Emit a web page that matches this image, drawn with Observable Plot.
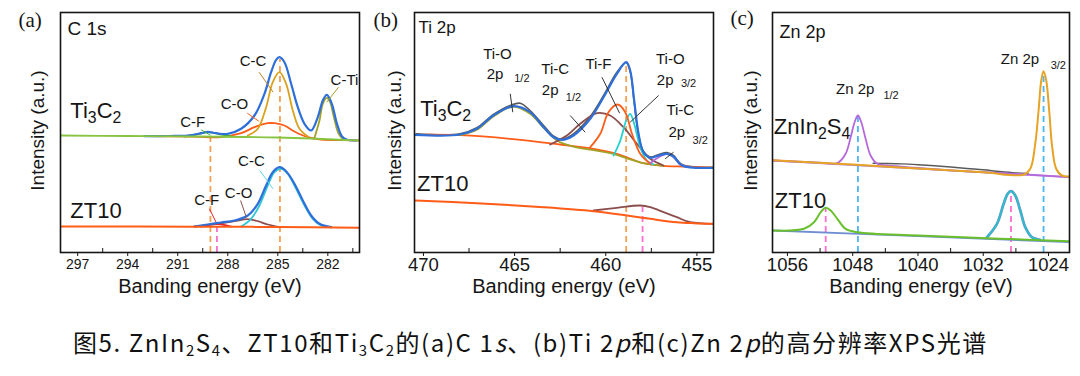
<!DOCTYPE html>
<html>
<head>
<meta charset="utf-8">
<script src="https://cdn.jsdelivr.net/npm/d3@7"></script>
<script src="https://cdn.jsdelivr.net/npm/@observablehq/plot@0.6"></script>
<style>
  body { margin: 0; background: #fff; }
  #wrap { position: relative; width: 1080px; height: 376px; background: #fff; overflow: hidden; }
  .panel { position: absolute; top: 0; }
  .panel svg { font-family: "Liberation Sans", Arial, sans-serif; }
  #caption { position: absolute; left: 73px; top: 329px; font-family: "Noto Sans CJK SC", "Noto Sans", sans-serif;
             font-size: 24px; letter-spacing: 1.6px; line-height: 26px; white-space: nowrap; color: #111; }
  #caption sub { font-size: 0.62em; vertical-align: -0.28em; line-height: 0; }
</style>
</head>
<body>
<div id="wrap">
  <div id="pa" class="panel" style="left:0px"></div>
  <div id="pb" class="panel" style="left:360px"></div>
  <div id="pc" class="panel" style="left:716px"></div>
  <div id="caption">图5. ZnIn<sub>2</sub>S<sub>4</sub>、ZT10和Ti<sub>3</sub>C<sub>2</sub>的(a)C 1<i>s</i>、(b)Ti 2<i>p</i>和(c)Zn 2<i>p</i>的高分辨率XPS光谱</div>
</div>
<script>
// ---------------- text ----------------
const panelLetters = ["(a)", "(b)", "(c)"];
const panelTitles = ["C 1s", "Ti 2p", "Zn 2p"];
const xTitle = "Banding energy (eV)";
const yTitle = "Intensity (a.u.)";

// ---------------- panel (a) C 1s ----------------
const aTicks = [297, 294, 291, 288, 285, 282];
const aMinor = [295.5, 292.5, 289.5, 286.5, 283.5, 280.5];
// Ti3C2  [binding energy, intensity]
const aTiBackground = [[298.0,117],[294,116.5],[290,116],[287,115.5],[285,115],[283,114],[281,112.5],[280.1,112]];
const aTiEnvelope = [[293.0,116.3],[291.5,116.5],[290.4,117],[289.6,119.3],[289.2,120.7],[288.7,119.3],[288.0,118.7],[287.2,123.7],[286.4,137],[285.8,158.7],[285.4,180.3],[285.1,192.7],[284.9,195.3],[284.6,190.3],[284.2,168.7],[283.8,145.3],[283.4,128.7],[283.0,122],[282.6,135.3],[282.3,152],[282.06,157.7],[281.76,148.7],[281.45,128.7],[281.15,116],[280.85,112.7],[280.3,112]];
const aTiCC = [[286.8,117],[286.2,123.7],[285.7,145.3],[285.3,170.3],[284.9,180.3],[284.5,168.7],[284.1,142],[283.7,123.7],[283.2,116]];
const aTiCO = [[293.0,116.3],[290.0,115.8],[288.4,115.5],[287.2,119.3],[286.4,125.3],[285.6,129.3],[285.2,129.3],[284.6,127],[284.0,121],[283.2,115.3],[282.4,112.9],[281.0,112.3],[280.1,112]];
const aTiCF = [[290.6,116],[289.7,118.7],[289.2,120.3],[288.6,118.7],[287.8,116]];
const aTiCTi = [[282.8,114.7],[282.5,132],[282.3,148.7],[282.06,154.7],[281.86,150.3],[281.66,137],[281.35,118.7],[281.05,112.7]];
// ZT10
const aZtBackground = [[298.0,26],[290,25.8],[285,25.5],[280.1,24.8]];
const aZtEnvelope = [[290.0,26],[289.2,28],[288.4,30],[287.6,32],[286.8,37],[286.2,48.7],[285.7,67],[285.3,80.3],[284.9,85.3],[284.5,81.3],[284.0,68.7],[283.5,52],[283.0,37],[282.5,28.7],[281.8,25.3]];
const aZtCC = [[287.2,26],[286.6,33.7],[286.1,47],[285.6,67],[285.2,80.3],[284.8,83.7],[284.4,78.7],[283.9,63.7],[283.4,47],[282.9,33.7],[282.4,27],[281.8,25.3]];
const aZtCO = [[290.0,26],[288.6,28.7],[287.6,31.3],[286.8,33.3],[286.2,31.3],[285.6,28],[284.8,25.3]];
const aZtCF = [[289.6,26],[288.7,28.7],[287.8,26]];
// reference (dashed) lines: energy, top intensity, sample
const aDashes = [{E: 284.87, top: 193, sample: "Ti3C2"}, {E: 289.04, top: 117, sample: "Ti3C2"}, {E: 288.65, top: 28, sample: "ZT10"}];
const aSamples = [{text: "Ti₃C₂", E: 297.44, I: 142}, {text: "ZT10", E: 297.44, I: 42}];
const aPeakLabels = [
  {text: "C-F", E: 290.1, I: 130}, {text: "C-O", E: 287.6, I: 148}, {text: "C-C", E: 286.48, I: 191.5}, {text: "C-Ti", E: 281.0, I: 172.7},
  {text: "C-C", E: 286.58, I: 91.3}, {text: "C-O", E: 287.35, I: 59.3}, {text: "C-F", E: 289.26, I: 52}
];
const aLeaders = [
  {key: "cf", E1: 289.6, I1: 122.7, E2: 289.04, I2: 117.3},
  {key: "co", E1: 286.83, I1: 139.3, E2: 286.14, I2: 131.3},
  {key: "cc", E1: 286.12, I1: 180.3, E2: 285.28, I2: 160.3},
  {key: "cti", E1: 281.36, I1: 165.3, E2: 282.06, I2: 150.3},
  {key: "zcc", E1: 286.08, I1: 82, E2: 285.28, I2: 63.7},
  {key: "zco", E1: 287.23, I1: 52, E2: 286.89, I2: 35.3},
  {key: "zcf", E1: 289.1, I1: 43.7, E2: 288.7, I2: 30.3}
];

// ---------------- panel (b) Ti 2p ----------------
const bTicks = [470, 465, 460, 455];
const bMinor = [467.5, 462.5, 457.5];
const bTiBackground = [[470.45,117.7],[467.99,117.3],[465.24,113.7],[462.5,108],[460.67,103.7],[459.39,98.7],[457.93,89.3],[456.83,86.7],[455.73,86],[454.08,84.7]];
const bTiRaw = [[470.4,118.7],[467.99,118.7],[467.07,124.7],[466.16,138],[465.24,147],[464.7,149.3],[464.15,142],[463.41,127],[462.86,116.3],[462.4,113.3],[461.77,118.7],[460.85,136],[460.12,157],[459.39,180.3],[458.88,190],[458.66,181],[458.44,150],[458.2,117],[457.93,101],[457.56,95.5],[457.1,98],[456.64,100],[456.28,97],[455.82,88],[454.08,85.3]];
const bTiEnvelope = [[470.45,117.7],[467.99,118],[467.07,123.7],[466.16,137],[465.06,146.3],[464.15,140.3],[463.41,125.3],[462.86,115.3],[462.4,112.7],[461.77,117],[460.85,133.7],[460.12,155.3],[459.39,178.7],[458.88,190.3],[458.66,182],[458.44,152],[458.2,118.7],[457.93,100.3],[457.56,94.7],[457.1,97],[456.64,98.7],[456.28,96],[455.82,87],[454.08,84.7]];
const bTiO12 = [[467.99,117.3],[467.07,122.7],[466.16,136],[465.06,146],[464.15,138.7],[463.41,124.7],[462.68,112],[461.95,106.7],[459.76,99.3],[457.93,89.3],[456.83,86.7]];
const bTiC12 = [[463.05,108],[462.13,117],[461.4,128.7],[460.48,139.3],[459.76,137],[459.03,125.3],[458.29,108.7],[457.56,93.7],[456.83,87]];
const bTiF = [[460.85,105.3],[460.3,118.7],[459.85,140.3],[459.35,148],[458.93,140.3],[458.56,118.7],[458.11,98.7],[457.56,88.7]];
const bTiO32 = [[459.57,97],[459.2,112],[458.88,132],[458.66,138.7],[458.44,128.7],[458.11,105.3],[457.74,92],[457.38,88]];
const bTiC32 = [[457.56,89.3],[457.1,95.3],[456.64,98.7],[456.28,95.3],[455.92,88],[455.55,86]];
const bZtBackground = [[470.45,52],[467.07,49.3],[463.41,45.3],[460.67,41.3],[458.84,37],[457.56,33.7],[456.1,30.3],[455.18,29.3],[454.08,28.7]];
const bZtEnvelope = [[460.67,42],[459.39,44.7],[458.11,47],[457.56,45.3],[456.83,40.3],[456.1,35.3],[455.37,30.3],[454.08,28.7]];
const bDashes = [{E: 458.88, top: 190, sample: "Ti3C2"}, {E: 457.98, top: 45, sample: "ZT10"}];
const bSamples = [{text: "Ti₃C₂", E: 470.18, I: 143.7}, {text: "ZT10", E: 470.35, I: 68.7}];
const bPeakLabels = [
  {text: "Ti-O", E: 465.94, I: 198}, {text: "Ti-C", E: 462.77, I: 183.7}, {text: "Ti-F", E: 460.4, I: 188.7},
  {text: "Ti-O", E: 456.46, I: 193.7}, {text: "Ti-C", E: 455.91, I: 142},
  {text: "2p", E: 466.07, I: 178}, {text: "2p", E: 463.05, I: 162}, {text: "2p", E: 456.74, I: 172.7}, {text: "2p", E: 456.1, I: 120.3}
];
const bSubLabels = [{text: "1/2", E: 464.6, I: 173.7}, {text: "1/2", E: 461.77, I: 155.3}, {text: "3/2", E: 455.46, I: 168.7}, {text: "3/2", E: 454.82, I: 112}];
const bLeaders = [
  {key: "k", E1: 465.24, I1: 158.7, E2: 465.1, I2: 140.3},
  {key: "k", E1: 461.95, I1: 137, E2: 461.13, I2: 120.3},
  {key: "k", E1: 460.21, I1: 175.3, E2: 459.24, I2: 139.3},
  {key: "k", E1: 457.1, I1: 157, E2: 458.66, I2: 130.3},
  {key: "k", E1: 456.28, I1: 100.3, E2: 456.74, I2: 93.7}
];

// ---------------- panel (c) Zn 2p ----------------
const cTicks = [1056, 1048, 1040, 1032, 1024];
const cMinor = [1052, 1044, 1036, 1028];
const cZnBackground = [[1057.8,92],[1048,87.5],[1040,83.8],[1030,79.2],[1021.4,75.3]];
const cZnRaw = [[1045.5,89.2],[1044,89],[1042,88.6],[1040,87.8],[1038,86.8],[1036,85.5],[1034,84],[1032,82.7],[1030,81],[1028,79.6],[1026.5,79]];
const cZn12 = [[1057.8,92],[1052,89.8],[1049.89,89.3],[1048.87,98.7],[1048.25,115.3],[1047.77,130.3],[1047.36,137],[1046.95,130.3],[1046.42,113.7],[1045.81,97],[1044.99,88.7],[1043.77,87],[1036,82.2],[1028,78.7],[1021.4,75.3]];
const cZn32 = [[1057.8,92.3],[1048,88],[1040,84],[1032,80.3],[1027.06,77.8],[1026.24,83.7],[1025.63,108.7],[1025.22,142],[1024.89,172],[1024.61,181.3],[1024.28,172],[1023.92,142],[1023.55,105.3],[1023.06,83.7],[1022.37,77],[1021.4,76]];
const cZtBackground = [[1057.8,22],[1040,16.3],[1021.4,10.3]];
const cZt12 = [[1057.8,22],[1053.97,23.7],[1052.74,30.3],[1051.92,40.3],[1051.31,44.7],[1050.7,42],[1049.89,33.7],[1048.87,23.7],[1047.44,20.3],[1040,17],[1030,13.8],[1021.4,11.3]];
const cZt32 = [[1031.54,15.3],[1030.32,28.7],[1029.5,48.7],[1029.01,58.7],[1028.6,61.3],[1028.08,57],[1027.46,42],[1026.85,25.3],[1026.04,15.3],[1025.02,12.7]];
const cDashes = [{E: 1047.36, top: 137, sample: "ZnIn2S4"}, {E: 1024.61, top: 180, sample: "ZnIn2S4"}, {E: 1051.31, top: 44, sample: "ZT10"}, {E: 1028.6, top: 61, sample: "ZT10"}];
const cSamples = [{text: "ZnIn₂S₄", E: 1057.67, I: 125.3}, {text: "ZT10", E: 1057.55, I: 52}];
const cPeakLabels = [{text: "Zn 2p", E: 1047.7, I: 163}, {text: "Zn 2p", E: 1027.5, I: 193}];
const cSubLabels = [{text: "1/2", E: 1043.3, I: 157.5}, {text: "3/2", E: 1022.8, I: 187.5}];

// ---------------- styles ----------------
const FONT = "Liberation Sans, Arial, sans-serif";
const COL = {
  blue: "#2e6fd9", gray: "#5a5a5a", lightGreen: "#87c540", gold: "#d8a21f", orange: "#ff5c17",
  green: "#3fae3a", olive: "#a2a226", cyan: "#2cc7d6", brown: "#8c4d4d", red: "#e3262b",
  tiCyan: "#22d2d0", purple: "#b569d9", lilac: "#b489e0", zincOrange: "#e6a325", zGreen: "#69bf2c",
  teal: "#25c4c6", blueGray: "#6f8ed2",
  dashOrange: "#f5a056", dashPink: "#ff6fcf", dashBlue: "#4cb6f2", ink: "#151515"
};
const dashColor = {Ti3C2: COL.dashOrange, ZT10: COL.dashPink, ZnIn2S4: COL.dashBlue};
const leaderColor = {cf: COL.green, co: COL.orange, cc: "#b8862a", cti: COL.olive, zcc: "#5fd6ef", zco: COL.brown, zcf: COL.red, k: "#333"};

// turn Unicode subscript digits into real lowered tspans
function subscriptify(svg) {
  const subs = "₀₁₂₃₄₅₆₇₈₉";
  d3.select(svg).selectAll("text").each(function () {
    const t = this.textContent;
    if (!/[₀-₉]/.test(t) || this.children.length) return;
    const node = d3.select(this);
    node.text(null);
    let down = false;
    for (const ch of t) {
      const i = subs.indexOf(ch);
      if (i >= 0) {
        node.append("tspan").attr("font-size", "72%").attr("dy", down ? null : "0.32em").text(String(i));
        down = true;
      } else {
        node.append("tspan").attr("dy", down ? "-0.23em" : null).text(ch);
        down = false;
      }
    }
  });
}

function drawPanel(el, cfg) {
  const marks = [];
  marks.push(Plot.ruleX(cfg.minor, {x: d => d, y1: 0, y2: 4, stroke: COL.ink, strokeWidth: 1}));
  marks.push(Plot.axisX(cfg.ticks, {tickSize: 4, tickPadding: cfg.tickPad, fontSize: cfg.tickFont, fontFamily: FONT,
    tickFormat: d => String(d), label: null, stroke: COL.ink, fill: COL.ink}));
  for (const d of cfg.dashes) {
    marks.push(Plot.ruleX([d], {x: "E", y1: 0, y2: "top", stroke: dashColor[d.sample], strokeWidth: 1.8, strokeDasharray: "6,4"}));
  }
  for (const c of cfg.curves) {
    marks.push(Plot.line(c.pts, {x: d => d[0], y: d => d[1], stroke: c.color, strokeWidth: c.w || 1.8,
      curve: "catmull-rom", clip: true}));
  }
  for (const l of (cfg.leaders || [])) {
    marks.push(Plot.link([l], {x1: "E1", y1: "I1", x2: "E2", y2: "I2", stroke: leaderColor[l.key], strokeWidth: 1}));
  }
  const T = {fill: COL.ink, fontFamily: FONT, lineAnchor: "middle"};
  marks.push(Plot.text(cfg.peaks, {...T, x: "E", y: "I", text: "text", fontSize: cfg.peakFont, textAnchor: "middle"}));
  if (cfg.subs) marks.push(Plot.text(cfg.subs, {...T, x: "E", y: "I", text: "text", fontSize: 11, textAnchor: "middle"}));
  marks.push(Plot.text(cfg.samples, {...T, x: "E", y: "I", text: "text", fontSize: 22, textAnchor: "start"}));
  marks.push(Plot.text([cfg.title], {...T, text: d => d, frameAnchor: "top-left", dx: cfg.titleDx, dy: cfg.titleDy, fontSize: cfg.titleFont, textAnchor: "start"}));
  marks.push(Plot.text([cfg.letter], {...T, text: d => d, frameAnchor: "top-left", dx: cfg.letterDx, dy: cfg.letterDy, fontSize: 21, fontFamily: "Liberation Serif", textAnchor: "start"}));
  marks.push(Plot.text([yTitle], {...T, text: d => d, frameAnchor: "left", dx: cfg.yDx, dy: -2, rotate: -90, fontSize: 19, textAnchor: "middle"}));
  marks.push(Plot.text([xTitle], {...T, text: d => d, frameAnchor: "bottom", dy: 34, fontSize: 20, textAnchor: "middle"}));
  marks.push(Plot.frame({stroke: COL.ink, strokeWidth: 1.6}));
  const svg = Plot.plot({
    width: cfg.width, height: 310,
    marginLeft: cfg.marginLeft, marginRight: 3, marginTop: 12, marginBottom: 58,
    x: {domain: cfg.domain, label: null},
    y: {domain: [0, 240], axis: null},
    style: {fontFamily: FONT, background: "transparent", color: COL.ink, overflow: "visible"},
    marks
  });
  subscriptify(svg);
  el.appendChild(svg);
}

drawPanel(document.getElementById("pa"), {
  width: 362, marginLeft: 60, domain: [298.03, 280.1], ticks: aTicks, minor: aMinor, tickFont: 14, tickPad: 3,
  dashes: aDashes,
  curves: [
    {pts: aTiCO, color: COL.orange}, {pts: aTiCC, color: COL.gold}, {pts: aTiCTi, color: COL.olive},
    {pts: aTiCF, color: COL.green}, {pts: aTiEnvelope, color: COL.blue, w: 2.2}, {pts: aTiBackground, color: COL.lightGreen},
    {pts: aZtCO, color: COL.brown}, {pts: aZtCF, color: COL.red}, {pts: aZtCC, color: COL.cyan},
    {pts: aZtEnvelope, color: COL.blue, w: 2.2}, {pts: aZtBackground, color: COL.orange, w: 2}
  ],
  leaders: aLeaders, peaks: aPeakLabels, peakFont: 15, samples: aSamples,
  title: panelTitles[0], titleDx: 7, titleDy: 16, titleFont: 19,
  letter: panelLetters[0], letterDx: -42, letterDy: 8, yDx: -23
});

drawPanel(document.getElementById("pb"), {
  width: 356, marginLeft: 54, domain: [470.49, 454.09], ticks: bTicks, minor: bMinor, tickFont: 18.5, tickPad: 1,
  dashes: bDashes,
  curves: [
    {pts: bTiRaw, color: COL.gray, w: 1.6}, {pts: bTiBackground, color: COL.orange},
    {pts: bTiO12, color: COL.olive}, {pts: bTiC12, color: COL.brown}, {pts: bTiO32, color: COL.tiCyan},
    {pts: bTiF, color: COL.orange}, {pts: bTiC32, color: COL.purple}, {pts: bTiEnvelope, color: COL.blue, w: 2.2},
    {pts: bZtEnvelope, color: COL.brown}, {pts: bZtBackground, color: COL.orange, w: 2}
  ],
  leaders: bLeaders, peaks: bPeakLabels, subs: bSubLabels, peakFont: 15, samples: bSamples,
  title: panelTitles[1], titleDx: 4, titleDy: 15, titleFont: 17,
  letter: panelLetters[1], letterDx: -41, letterDy: 8, yDx: -20
});

drawPanel(document.getElementById("pc"), {
  width: 356, marginLeft: 56, domain: [1057.83, 1021.43], ticks: cTicks, minor: cMinor, tickFont: 18.5, tickPad: 1,
  dashes: cDashes,
  curves: [
    {pts: cZnRaw, color: COL.gray, w: 1.4}, {pts: cZnBackground, color: COL.lilac},
    {pts: cZn12, color: COL.purple}, {pts: cZn32, color: COL.zincOrange, w: 2},
    {pts: cZtBackground, color: COL.blueGray}, {pts: cZt32, color: COL.blueGray, w: 2.8},
    {pts: cZt32, color: COL.teal, w: 1.6}, {pts: cZt12, color: COL.zGreen, w: 2}
  ],
  leaders: [], peaks: cPeakLabels, subs: cSubLabels, peakFont: 15, samples: cSamples,
  title: panelTitles[2], titleDx: 7, titleDy: 20, titleFont: 18,
  letter: panelLetters[2], letterDx: -42, letterDy: 6, yDx: -22
});
</script>
</body>
</html>
